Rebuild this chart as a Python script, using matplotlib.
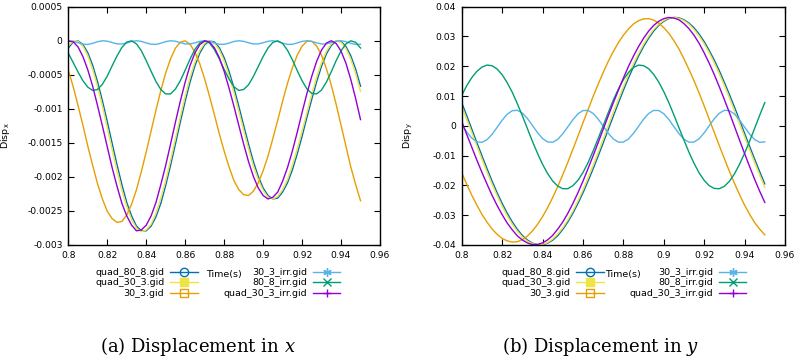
import numpy as np
import matplotlib.pyplot as plt
from matplotlib.lines import Line2D
from matplotlib.ticker import FuncFormatter

plt.rcParams['font.family'] = 'DejaVu Sans'
plt.rcParams['mathtext.fontset'] = 'custom'
plt.rcParams['mathtext.rm'] = 'DejaVu Sans'
plt.rcParams['mathtext.it'] = 'DejaVu Serif:italic'

# sampling grid, time in s (every 0.0025 s)
t = np.linspace(0.8, 0.95, 61)

# ---- Disp y ----
y_quad_80_8 = [0.0078, 0.0034, -0.0011, -0.0056, -0.0100, -0.0143, -0.0185, -0.0224, -0.0260, -0.0293,
               -0.0322, -0.0347, -0.0368, -0.0383, -0.0394, -0.0399, -0.0399, -0.0394, -0.0384, -0.0369,
               -0.0348, -0.0323, -0.0294, -0.0261, -0.0225, -0.0186, -0.0145, -0.0102, -0.0058, -0.0013,
               0.0032, 0.0076, 0.0119, 0.0160, 0.0198, 0.0234, 0.0266, 0.0294, 0.0318, 0.0337,
               0.0351, 0.0360, 0.0364, 0.0363, 0.0356, 0.0345, 0.0329, 0.0308, 0.0283, 0.0253,
               0.0221, 0.0185, 0.0146, 0.0105, 0.0063, 0.0019, -0.0025, -0.0069, -0.0112, -0.0154,
               -0.0195]
y_quad_30_3 = [0.0066, 0.0021, -0.0023, -0.0068, -0.0112, -0.0155, -0.0196, -0.0234, -0.0270, -0.0302,
               -0.0330, -0.0354, -0.0373, -0.0387, -0.0396, -0.0400, -0.0398, -0.0392, -0.0380, -0.0363,
               -0.0342, -0.0316, -0.0286, -0.0252, -0.0215, -0.0175, -0.0133, -0.0090, -0.0045, 0.0000,
               0.0045, 0.0088, 0.0131, 0.0171, 0.0209, 0.0243, 0.0274, 0.0301, 0.0324, 0.0341,
               0.0354, 0.0362, 0.0364, 0.0361, 0.0353, 0.0341, 0.0323, 0.0301, 0.0275, 0.0245,
               0.0211, 0.0174, 0.0135, 0.0093, 0.0050, 0.0007, -0.0037, -0.0081, -0.0124, -0.0166,
               -0.0206]
y_30_3 = [-0.0157, -0.0196, -0.0233, -0.0266, -0.0297, -0.0323, -0.0346, -0.0364, -0.0378, -0.0386,
          -0.0390, -0.0389, -0.0382, -0.0370, -0.0353, -0.0331, -0.0305, -0.0275, -0.0241, -0.0204,
          -0.0164, -0.0123, -0.0079, -0.0035, 0.0010, 0.0054, 0.0098, 0.0139, 0.0179, 0.0216,
          0.0249, 0.0279, 0.0304, 0.0325, 0.0342, 0.0353, 0.0359, 0.0360, 0.0355, 0.0345,
          0.0330, 0.0311, 0.0286, 0.0258, 0.0225, 0.0189, 0.0151, 0.0110, 0.0067, 0.0022,
          -0.0022, -0.0067, -0.0110, -0.0153, -0.0193, -0.0231, -0.0266, -0.0297, -0.0325, -0.0347,
          -0.0366]
y_quad_30_3_irr = [0.0015, -0.0029, -0.0072, -0.0115, -0.0156, -0.0195, -0.0233, -0.0267, -0.0298, -0.0326,
                   -0.0349, -0.0369, -0.0383, -0.0393, -0.0399, -0.0398, -0.0393, -0.0383, -0.0368, -0.0347,
                   -0.0323, -0.0294, -0.0261, -0.0225, -0.0186, -0.0144, -0.0101, -0.0057, -0.0012, 0.0033,
                   0.0077, 0.0119, 0.0160, 0.0199, 0.0234, 0.0266, 0.0294, 0.0318, 0.0337, 0.0351,
                   0.0360, 0.0364, 0.0362, 0.0356, 0.0343, 0.0326, 0.0304, 0.0277, 0.0245, 0.0210,
                   0.0172, 0.0131, 0.0088, 0.0044, -0.0002, -0.0048, -0.0093, -0.0137, -0.0180, -0.0220,
                   -0.0257]
y_80_8_irr = [0.0102, 0.0135, 0.0162, 0.0183, 0.0197, 0.0204, 0.0202, 0.0191, 0.0172, 0.0145,
              0.0113, 0.0075, 0.0034, -0.0009, -0.0052, -0.0092, -0.0129, -0.0160, -0.0185, -0.0202,
              -0.0211, -0.0211, -0.0201, -0.0183, -0.0157, -0.0124, -0.0085, -0.0043, 0.0000, 0.0044,
              0.0086, 0.0123, 0.0155, 0.0179, 0.0196, 0.0204, 0.0202, 0.0192, 0.0173, 0.0147,
              0.0115, 0.0078, 0.0037, -0.0006, -0.0048, -0.0089, -0.0126, -0.0158, -0.0183, -0.0201,
              -0.0210, -0.0211, -0.0203, -0.0186, -0.0161, -0.0129, -0.0092, -0.0051, -0.0008, 0.0036,
              0.0078]
y_30_3_irr = [0.00034, -0.00207, -0.00411, -0.00534, -0.00554, -0.00466, -0.00288, -0.00054, 0.00187, 0.00387,
              0.00508, 0.00523, 0.00431, 0.00249, 0.00015, -0.00226, -0.00424, -0.00540, -0.00551, -0.00455,
              -0.00270, -0.00035, 0.00205, 0.00401, 0.00513, 0.00519, 0.00420, 0.00232, -0.00005, -0.00244,
              -0.00437, -0.00545, -0.00547, -0.00443, -0.00253, -0.00015, 0.00222, 0.00413, 0.00517, 0.00515,
              0.00408, 0.00214, -0.00025, -0.00261, -0.00449, -0.00549, -0.00543, -0.00431, -0.00236, 0.00004,
              0.00240, 0.00425, 0.00521, 0.00510, 0.00396, 0.00196, -0.00044, -0.00279, -0.00461, -0.00553,
              -0.00538]

# ---- Disp x ----
x_quad_80_8 = [-0.000107, -0.000020, -0.000002, -0.000055, -0.000175, -0.000359, -0.000600, -0.000880, -0.001186, -0.001506,
               -0.001819, -0.002112, -0.002375, -0.002573, -0.002723, -0.002792, -0.002792, -0.002723, -0.002586, -0.002388,
               -0.002124, -0.001830, -0.001516, -0.001195, -0.000888, -0.000607, -0.000369, -0.000182, -0.000059, -0.000003,
               -0.000018, -0.000101, -0.000248, -0.000449, -0.000688, -0.000960, -0.001241, -0.001516, -0.001774, -0.001992,
               -0.002161, -0.002273, -0.002324, -0.002311, -0.002223, -0.002088, -0.001899, -0.001664, -0.001405, -0.001123,
               -0.000857, -0.000600, -0.000374, -0.000193, -0.000070, -0.000006, -0.000011, -0.000084, -0.000220, -0.000416,
               -0.000667]
x_quad_30_3 = [-0.000076, -0.000008, -0.000009, -0.000081, -0.000220, -0.000421, -0.000674, -0.000960, -0.001279, -0.001600,
               -0.001910, -0.002198, -0.002440, -0.002627, -0.002751, -0.002806, -0.002778, -0.002695, -0.002533, -0.002311,
               -0.002051, -0.001751, -0.001435, -0.001114, -0.000811, -0.000537, -0.000310, -0.000142, -0.000036, 0.0,
               -0.000036, -0.000136, -0.000301, -0.000513, -0.000766, -0.001036, -0.001317, -0.001589, -0.001841, -0.002040,
               -0.002198, -0.002299, -0.002324, -0.002286, -0.002186, -0.002040, -0.001830, -0.001589, -0.001326, -0.001053,
               -0.000781, -0.000531, -0.000320, -0.000152, -0.000044, -0.000001, -0.000024, -0.000115, -0.000270, -0.000483,
               -0.000744]
x_30_3 = [-0.000432, -0.000674, -0.000952, -0.001241, -0.001547, -0.001830, -0.002100, -0.002324, -0.002506, -0.002613,
          -0.002668, -0.002654, -0.002560, -0.002401, -0.002186, -0.001922, -0.001632, -0.001326, -0.001019, -0.000730,
          -0.000472, -0.000265, -0.000109, -0.000021, -0.000002, -0.000051, -0.000168, -0.000339, -0.000562, -0.000818,
          -0.001087, -0.001365, -0.001621, -0.001853, -0.002052, -0.002186, -0.002261, -0.002273, -0.002210, -0.002088,
          -0.001910, -0.001696, -0.001435, -0.001168, -0.000888, -0.000627, -0.000400, -0.000212, -0.000079, -0.000008,
          -0.000008, -0.000079, -0.000212, -0.000411, -0.000653, -0.000936, -0.001241, -0.001547, -0.001853, -0.002112,
          -0.002350]
x_quad_30_3_irr = [-0.000004, -0.000015, -0.000091, -0.000232, -0.000427, -0.000667, -0.000952, -0.001250, -0.001558, -0.001864,
                   -0.002136, -0.002388, -0.002573, -0.002709, -0.002792, -0.002778, -0.002709, -0.002573, -0.002375, -0.002112,
                   -0.001830, -0.001516, -0.001195, -0.000888, -0.000607, -0.000364, -0.000179, -0.000057, -0.000003, -0.000019,
                   -0.000104, -0.000248, -0.000449, -0.000695, -0.000960, -0.001241, -0.001516, -0.001774, -0.001992, -0.002161,
                   -0.002273, -0.002324, -0.002299, -0.002223, -0.002064, -0.001864, -0.001621, -0.001346, -0.001053, -0.000774,
                   -0.000519, -0.000301, -0.000136, -0.000034, 0.0, -0.000040, -0.000152, -0.000329, -0.000568, -0.000849,
                   -0.001158]
x_80_8_irr = [-0.000182, -0.000320, -0.000460, -0.000587, -0.000681, -0.000730, -0.000716, -0.000640, -0.000519, -0.000369,
              -0.000224, -0.000099, -0.000020, -0.000001, -0.000047, -0.000148, -0.000292, -0.000449, -0.000600, -0.000716,
              -0.000781, -0.000781, -0.000709, -0.000587, -0.000432, -0.000270, -0.000127, -0.000032, 0.0, -0.000034,
              -0.000130, -0.000265, -0.000421, -0.000562, -0.000674, -0.000730, -0.000716, -0.000647, -0.000525, -0.000379,
              -0.000232, -0.000107, -0.000024, -0.000001, -0.000040, -0.000139, -0.000278, -0.000438, -0.000587, -0.000709,
              -0.000774, -0.000781, -0.000723, -0.000607, -0.000455, -0.000292, -0.000148, -0.000046, -0.000001, -0.000023,
              -0.000107]
x_30_3_irr = [-0.0000002, -0.0000075, -0.0000296, -0.0000500, -0.0000538, -0.0000381, -0.0000145, -0.0000005, -0.0000061, -0.0000263,
              -0.0000453, -0.0000480, -0.0000326, -0.0000109, 0.0, -0.0000090, -0.0000315, -0.0000511, -0.0000533, -0.0000363,
              -0.0000128, -0.0000002, -0.0000074, -0.0000282, -0.0000462, -0.0000472, -0.0000309, -0.0000094, 0.0, -0.0000104,
              -0.0000335, -0.0000521, -0.0000525, -0.0000344, -0.0000112, 0.0, -0.0000086, -0.0000299, -0.0000469, -0.0000465,
              -0.0000292, -0.0000080, -0.0000001, -0.0000119, -0.0000354, -0.0000529, -0.0000517, -0.0000326, -0.0000098, 0.0,
              -0.0000101, -0.0000317, -0.0000476, -0.0000456, -0.0000275, -0.0000067, -0.0000003, -0.0000137, -0.0000373, -0.0000536,
              -0.0000508]

names = ['quad_80_8.gid', 'quad_30_3.gid', '30_3.gid', '30_3_irr.gid', '80_8_irr.gid', 'quad_30_3_irr.gid']
colors = ['#0072b2', '#f0e442', '#e69f00', '#56b4e9', '#009e73', '#9400d3']
markers = ['o', 's', 's', (6, 2, 0), 'x', '+']
filled = [False, True, False, True, True, True]

panels = [
    (x_quad_80_8, x_quad_30_3, x_30_3, x_30_3_irr, x_80_8_irr, x_quad_30_3_irr),
    (y_quad_80_8, y_quad_30_3, y_30_3, y_30_3_irr, y_80_8_irr, y_quad_30_3_irr),
]

fig = plt.figure(figsize=(8, 3.6), dpi=100)
ax1 = fig.add_axes([68.3/800, 115/360, 311.7/800, 238.3/360])
ax2 = fig.add_axes([461.7/800, 115/360, 323.3/800, 238.3/360])

fmt = FuncFormatter(lambda v, p: '%g' % round(v, 6))

for ax, series in zip([ax1, ax2], panels):
    for s, c in zip(series, colors):
        ax.plot(t, s, color=c, lw=1.0)
    ax.set_xlim(0.8, 0.96)
    ax.set_xticks(np.arange(0.8, 0.961, 0.02))
    ax.xaxis.set_major_formatter(fmt)
    ax.yaxis.set_major_formatter(fmt)
    ax.tick_params(direction='in', top=True, right=True, length=4, width=0.8,
                   labelsize=6.6, pad=4, colors='black')
    for sp in ax.spines.values():
        sp.set_linewidth(1.0)
    ax.set_xlabel('Time(s)', fontsize=6.8)
    ax.xaxis.set_label_coords(0.5, -0.104)

ax1.set_ylim(-0.003, 0.0005)
ax1.set_yticks(np.arange(-0.003, 0.00051, 0.0005))
ax2.set_ylim(-0.04, 0.04)
ax2.set_yticks(np.arange(-0.04, 0.0401, 0.01))

ax1.set_ylabel('Disp$_{\\mathrm{x}}$', fontsize=6.8)
ax1.yaxis.set_label_coords(-0.181, 0.46)
ax2.set_ylabel('Disp$_{\\mathrm{y}}$', fontsize=6.8)
ax2.yaxis.set_label_coords(-0.145, 0.46)

handles = [Line2D([], [], color=c, marker=m, lw=1.0, ms=6,
                  mfc=(c if f else 'none'), mec=c, mew=1.0)
           for c, m, f in zip(colors, markers, filled)]

for x0 in [95/800, 501/800]:
    fig.legend(handles, names, ncol=2, markerfirst=False, frameon=False,
               loc='upper left', bbox_to_anchor=(x0, 1 - 268/360),
               fontsize=6.8, handlelength=2.9, handletextpad=0.65,
               columnspacing=2.7, labelspacing=0.15, borderpad=0, borderaxespad=0)

fig.text(198/800, 1 - 346/360, '(a) Displacement in $x$', fontsize=13,
         family='DejaVu Serif', ha='center', va='center')
fig.text(601/800, 1 - 346/360, '(b) Displacement in $y$', fontsize=13,
         family='DejaVu Serif', ha='center', va='center')

fig.savefig('out.png', dpi=100)
